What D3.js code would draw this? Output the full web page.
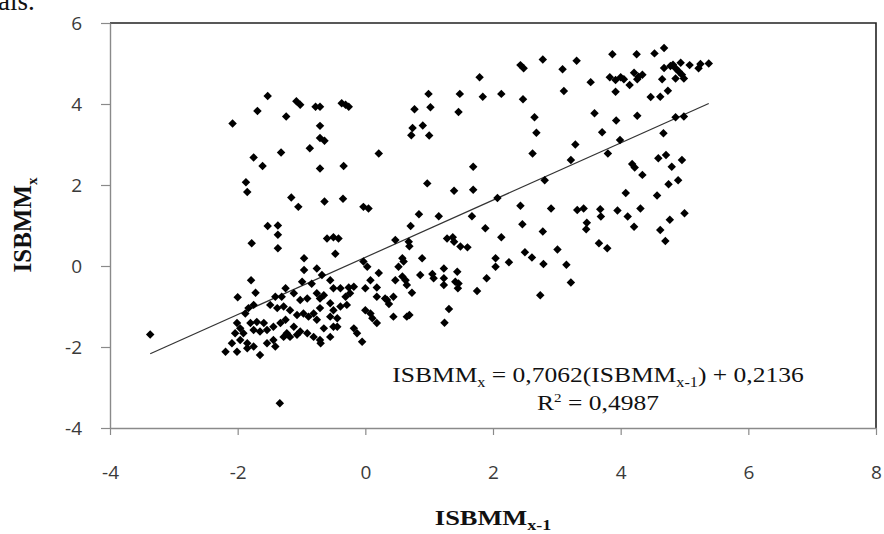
<!DOCTYPE html>
<html>
<head>
<meta charset="utf-8">
<title>ISBMM scatter</title>
<script src="https://cdnjs.cloudflare.com/ajax/libs/d3/7.8.5/d3.min.js"></script>
<style>
    html, body { margin: 0; padding: 0; background: #fff; }
    svg { display: block; }
    .tick text { font-family: "Open Sans", sans-serif; font-size: 19px; fill: #3a3a3a; }
    .serif { font-family: "Liberation Serif", "Times New Roman", serif; fill: #111; }
</style>
</head>
<body>
<svg id="chart" width="884" height="534"></svg>
<script>
    // tick values on both axes
    const xTicks = [-4, -2, 0, 2, 4, 6, 8];
    const yTicks = [-4, -2, 0, 2, 4, 6];

    // linear fit shown on the chart
    const slope = 0.7062;
    const intercept = 0.2136;
    const rSquared = "0,4987";

    // [ISBMM x-1, ISBMM x]
    const points = [
        [-1.53, 4.20], [-1.69, 3.83], [-1.08, 4.07], [-1.02, 3.98], [-0.78, 3.93], [-0.71, 3.93],
        [-0.37, 4.02], [-0.31, 3.98], [-0.26, 3.93], [-2.08, 3.52], [-1.24, 3.69], [-0.71, 3.46],
        [-0.71, 3.16], [-0.64, 3.09], [-0.87, 2.91], [-1.32, 2.80], [-1.75, 2.68], [-1.61, 2.47],
        [-0.71, 2.41], [-0.34, 2.47], [0.21, 2.78], [-1.87, 2.07], [-1.85, 1.83], [-1.16, 1.69],
        [-1.05, 1.46], [-0.64, 1.59], [-0.35, 1.66], [-0.03, 1.46], [0.05, 1.42], [-1.53, 0.99],
        [-1.37, 1.00],
        [4.68, 5.38], [4.53, 5.25], [4.25, 5.23], [3.87, 5.23], [3.31, 5.07], [2.78, 5.10],
        [2.43, 4.96], [2.48, 4.88], [3.09, 4.86], [1.79, 4.66], [3.53, 4.54], [3.83, 4.66],
        [3.92, 4.59], [4.00, 4.66], [4.05, 4.61], [4.21, 4.77], [4.28, 4.67], [4.34, 4.72],
        [4.26, 4.61], [4.68, 4.89], [4.78, 4.94], [4.86, 4.88], [4.91, 4.80], [4.86, 4.63],
        [4.65, 4.61], [4.14, 4.47], [3.92, 4.30], [3.11, 4.32], [0.99, 4.25], [1.48, 4.25],
        [1.84, 4.18], [2.13, 4.25], [2.47, 4.12], [4.74, 4.33], [4.47, 4.17], [4.62, 4.18],
        [0.77, 3.87], [1.02, 3.92], [1.46, 3.80], [3.59, 3.77], [4.26, 3.71], [2.65, 3.67],
        [3.93, 3.59], [0.74, 3.41], [0.90, 3.47], [0.72, 3.23], [1.00, 3.22], [2.68, 3.29],
        [3.71, 3.30], [4.67, 3.28], [4.86, 3.67], [3.99, 3.11], [3.29, 3.00], [2.62, 2.78],
        [3.80, 2.78], [3.22, 2.62], [1.69, 2.45], [4.18, 2.52], [4.22, 2.43], [4.59, 2.66],
        [4.71, 2.74], [4.80, 2.45], [4.34, 2.25], [2.81, 2.12], [0.97, 2.04], [1.39, 1.86],
        [1.69, 1.88], [4.75, 2.02], [4.90, 2.12], [2.07, 1.68], [4.08, 1.80], [4.57, 1.74],
        [0.84, 1.28], [1.15, 1.23], [1.67, 1.23], [2.43, 1.49], [2.91, 1.42], [3.32, 1.38],
        [3.42, 1.42], [3.68, 1.40], [3.69, 1.22], [3.95, 1.37], [4.11, 1.22], [4.31, 1.42],
        [4.77, 1.14], [0.71, 0.99], [1.88, 0.93], [2.46, 1.03], [3.47, 1.07], [4.21, 0.97],
        [5.38, 5.00], [5.25, 4.99], [5.22, 4.88], [5.08, 4.96], [4.94, 5.02], [4.82, 4.97],
        [4.96, 4.72], [4.99, 4.63], [4.99, 3.69], [4.96, 2.62], [5.00, 1.30], [4.62, 0.89],
        [4.70, 0.62],
        [-3.37, -1.69], [-1.34, -3.39], [-1.78, 0.56], [-1.37, 0.77], [-1.37, 0.44], [-0.60, 0.68],
        [-0.50, 0.71], [-0.42, 0.68], [-0.47, 0.30], [0.47, 0.64], [-0.96, 0.19], [-0.96, -0.10],
        [-0.76, -0.06], [-1.79, -0.35], [-1.72, -0.66], [-2.00, -0.77], [-0.03, 0.11], [0.03, -0.02],
        [0.21, -0.17], [0.47, -0.35], [-0.99, -0.39], [-0.84, -0.44], [-0.68, -0.22], [-0.55, -0.35],
        [-0.50, -0.55], [-1.25, -0.55], [-1.41, -0.76], [-1.31, -0.76], [-1.12, -0.67], [-1.02, -0.84],
        [-0.91, -0.80], [-0.76, -0.67], [-0.71, -0.80], [-0.65, -0.72], [-0.39, -0.55], [-0.26, -0.53],
        [-0.18, -0.51], [-0.24, -0.67], [-0.31, -0.76], [0.00, -0.55], [0.08, -0.35], [0.18, -0.53],
        [0.18, -0.76], [0.34, -0.84], [0.44, -0.76], [0.44, -1.25], [-1.83, -1.04], [-1.75, -0.96],
        [-1.88, -1.17], [-1.49, -0.96], [-1.38, -1.04], [-1.28, -1.00], [-1.18, -1.09], [-1.07, -1.21],
        [-0.97, -1.17], [-0.89, -1.25], [-0.81, -1.17], [-0.76, -1.33], [-0.71, -1.04], [-0.55, -0.92],
        [-0.50, -1.09], [-0.39, -1.00], [-0.29, -0.96], [-0.55, -1.25], [-0.44, -1.29], [-0.44, -1.50],
        [0.00, -1.09], [0.08, -1.17], [0.11, -1.29], [0.18, -1.41], [-0.18, -1.54], [-0.13, -1.66],
        [-0.05, -1.87], [-2.01, -1.41], [-1.96, -1.54], [-2.04, -1.66], [-1.91, -1.66], [-1.80, -1.41],
        [-1.70, -1.38], [-1.59, -1.41], [-1.75, -1.58], [-1.65, -1.62], [-1.54, -1.58], [-1.44, -1.50],
        [-1.33, -1.41], [-1.25, -1.33], [-1.23, -1.66], [-1.12, -1.50], [-1.02, -1.62], [-0.91, -1.66],
        [-0.81, -1.75], [-0.71, -1.83], [-0.65, -1.54], [-0.55, -1.75], [-0.50, -1.50], [-2.09, -1.91],
        [-1.96, -1.83], [-1.85, -1.91], [-2.19, -2.12], [-2.01, -2.12], [-1.85, -2.03], [-1.75, -1.99],
        [-1.65, -2.20], [-1.54, -1.91], [-1.44, -1.83], [-1.41, -1.99], [-1.28, -1.75], [-1.18, -1.75],
        [-1.07, -1.70], [-0.70, -1.91],
        [3.46, 0.91], [2.78, 0.85], [2.13, 0.71], [1.28, 0.68], [1.37, 0.71], [1.39, 0.60],
        [1.49, 0.48], [1.60, 0.46], [0.68, 0.60], [0.69, 0.49], [3.01, 0.41], [3.66, 0.56],
        [3.79, 0.44], [2.50, 0.34], [2.61, 0.21], [0.89, 0.19], [0.58, 0.19], [0.60, 0.11],
        [0.52, -0.02], [2.04, 0.19], [2.04, -0.02], [2.25, 0.09], [2.79, 0.05], [3.15, 0.03],
        [1.23, -0.06], [0.58, -0.26], [0.63, -0.35], [0.86, -0.22], [1.05, -0.20], [1.07, -0.30],
        [1.23, -0.30], [1.23, -0.47], [1.44, -0.14], [1.41, -0.39], [1.46, -0.43], [1.45, -0.55],
        [1.90, -0.30], [0.65, -0.47], [0.73, -0.66], [1.75, -0.62], [3.22, -0.41], [2.74, -0.72],
        [0.31, -0.80], [0.37, -0.94], [1.31, -1.06], [0.65, -1.25], [0.69, -1.21], [1.24, -1.40]
    ];

    const svg = d3.select("#chart");

    const x = d3.scaleLinear().domain([-4, 8]).range([110, 876]);
    const y = d3.scaleLinear().domain([-4, 6]).range([428, 23]);

    // plain hyphen for negatives, like the original
    const fmt = d => String(d);

    // cut-off caption text from the page above the chart
    svg.append("text")
        .attr("class", "serif")
        .attr("x", -2)
        .attr("y", 10)
        .style("font-size", "27px")
        .text("als.");

    // plot area frame: dark top and right edges
    svg.append("path")
        .attr("d", `M${x(-4)},${y(6)}H${x(8)}V${y(-4)}`)
        .attr("fill", "none")
        .attr("stroke", "#222")
        .attr("stroke-width", 1.6);

    const yAxis = svg.append("g")
        .attr("transform", `translate(${x(-4)},0)`)
        .call(d3.axisLeft(y).tickValues(yTicks).tickFormat(fmt).tickSize(9).tickPadding(19).tickSizeOuter(0));

    const xAxis = svg.append("g")
        .attr("transform", `translate(0,${y(-4)})`)
        .call(d3.axisBottom(x).tickValues(xTicks).tickFormat(fmt).tickSize(7).tickPadding(31).tickSizeOuter(0));

    [xAxis, yAxis].forEach(g => {
        g.select(".domain").attr("stroke", "#8a8a8a").attr("stroke-width", 1.4);
        g.selectAll(".tick line").attr("stroke", "#8a8a8a").attr("stroke-width", 1.2);
    });

    // trend line across the x range of the data
    const xr = d3.extent(points, d => d[0]);
    svg.append("line")
        .attr("x1", x(xr[0]))
        .attr("y1", y(slope * xr[0] + intercept))
        .attr("x2", x(xr[1]))
        .attr("y2", y(slope * xr[1] + intercept))
        .attr("stroke", "#333")
        .attr("stroke-width", 1.2);

    const diamond = d3.symbol().type(d3.symbolSquare).size(36);
    svg.append("g")
        .selectAll("path")
        .data(points)
        .enter()
        .append("path")
        .attr("d", diamond)
        .attr("transform", d => `translate(${x(d[0])},${y(d[1])}) rotate(45)`)
        .attr("fill", "#000");

    // equation
    const eq = svg.append("g").attr("transform", "translate(598,382) scale(1.16,1)");
    const line1 = eq.append("text")
        .attr("class", "serif")
        .attr("text-anchor", "middle")
        .style("font-size", "22px");
    line1.append("tspan").text("ISBMM");
    line1.append("tspan").attr("dy", 5).style("font-size", "14px").text("x");
    line1.append("tspan").attr("dy", -5).text(" = 0,7062(ISBMM");
    line1.append("tspan").attr("dy", 5).style("font-size", "14px").text("x-1");
    line1.append("tspan").attr("dy", -5).text(")" + " + " + "0,2136");

    const line2 = svg.append("g").attr("transform", "translate(598,410) scale(1.16,1)")
        .append("text")
        .attr("class", "serif")
        .attr("text-anchor", "middle")
        .style("font-size", "22px");
    line2.append("tspan").text("R");
    line2.append("tspan").attr("dy", -8).style("font-size", "13px").text("2");
    line2.append("tspan").attr("dy", 8).text(" = " + rSquared);

    // axis titles
    const xt = svg.append("g").attr("transform", "translate(493,525) scale(1.2,1)")
        .append("text")
        .attr("class", "serif")
        .attr("text-anchor", "middle")
        .style("font-size", "22px")
        .style("font-weight", "bold");
    xt.append("tspan").text("ISBMM");
    xt.append("tspan").attr("dy", 5).style("font-size", "15px").text("x-1");

    const yt = svg.append("g").attr("transform", "translate(31,225) rotate(-90)")
        .append("text")
        .attr("class", "serif")
        .attr("text-anchor", "middle")
        .style("font-size", "25px")
        .style("font-weight", "bold");
    yt.append("tspan").text("ISBMM");
    yt.append("tspan").attr("dy", 6).style("font-size", "15px").text("x");
</script>
</body>
</html>
